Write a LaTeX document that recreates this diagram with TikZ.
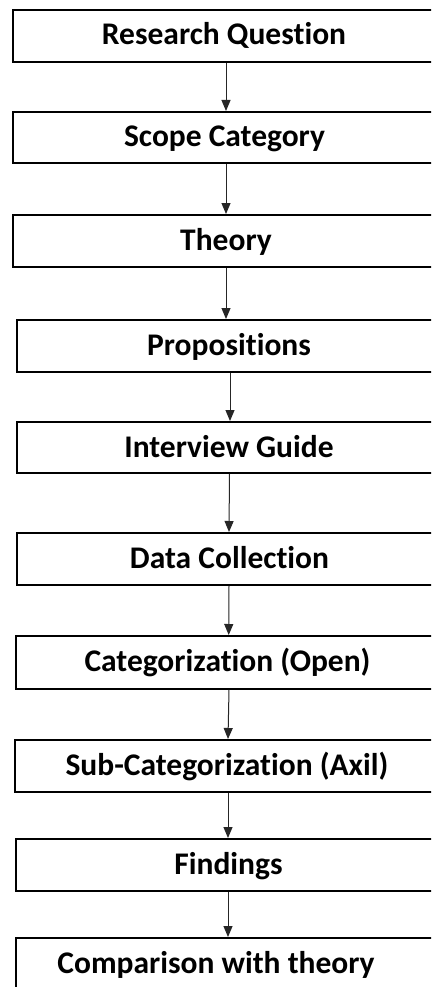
\documentclass[tikz,border=0pt]{standalone}
\usepackage{fontspec}
\setmainfont{Carlito}[Ligatures=NoCommon]
\usetikzlibrary{arrows.meta}
\begin{document}
\begin{tikzpicture}[x=1pt,y=-1pt,
  stepbox/.style={draw=black,line width=1.8pt,rectangle,inner sep=0pt,anchor=north west,minimum width=460pt},
  steptext/.style={font=\bfseries\fontsize{31.5}{34}\selectfont,anchor=base,inner sep=0pt},
  arr/.style={draw=black!85,line width=1pt,-{Triangle[width=9pt,length=11pt]}}]
\useasboundingbox (0,0) rectangle (431,987);
\clip (0,0) rectangle (431,987);
\fill[white] (0,0) rectangle (431,987);
% boxes
\node[stepbox,minimum height=52pt] (b1) at (12,9) {};
\node[stepbox,minimum height=51pt] (b2) at (12,111) {};
\node[stepbox,minimum height=52pt] (b3) at (12,214) {};
\node[stepbox,minimum height=52pt] (b4) at (16,319) {};
\node[stepbox,minimum height=51pt] (b5) at (16,421) {};
\node[stepbox,minimum height=52pt] (b6) at (16,532) {};
\node[stepbox,minimum height=53pt] (b7) at (15,635) {};
\node[stepbox,minimum height=52pt] (b8) at (14,739) {};
\node[stepbox,minimum height=52pt] (b9) at (15,838) {};
\node[stepbox,minimum height=52pt] (b10) at (15,937) {};
% texts
\node[steptext] (t1) at (224,45) {Research Question};
\node[steptext] (t2) at (224.5,147) {Scope Category};
\node[steptext] (t3) at (226,250) {Theory};
\node[steptext] (t4) at (229,355) {Propositions};
\node[steptext] (t5) at (229,457) {Interview Guide};
\node[steptext] (t6) at (229.5,568) {Data Collection};
\node[steptext] (t7) at (227.5,671) {Categorization (Open)};
\node[steptext] (t8) at (227,775) {Sub-Categorization (Axil)};
\node[steptext] (t9) at (228.5,874) {Findings};
\node[steptext] (t10) at (216,973) {Comparison with theory};
% arrows
\draw[arr] (226,0 |- b1.south) -- (226,0 |- b2.north);
\draw[arr] (226,0 |- b2.south) -- (226,0 |- b3.north);
\draw[arr] (226,0 |- b3.south) -- (226,0 |- b4.north);
\draw[arr] (230,0 |- b4.south) -- (230,0 |- b5.north);
\draw[arr] (229.5,0 |- b5.south) -- (229,0 |- b6.north);
\draw[arr] (229,0 |- b6.south) -- (228.7,0 |- b7.north);
\draw[arr] (229,0 |- b7.south) -- (228,0 |- b8.north);
\draw[arr] (228,0 |- b8.south) -- (228,0 |- b9.north);
\draw[arr] (228,0 |- b9.south) -- (228,0 |- b10.north);
\end{tikzpicture}
\end{document}
